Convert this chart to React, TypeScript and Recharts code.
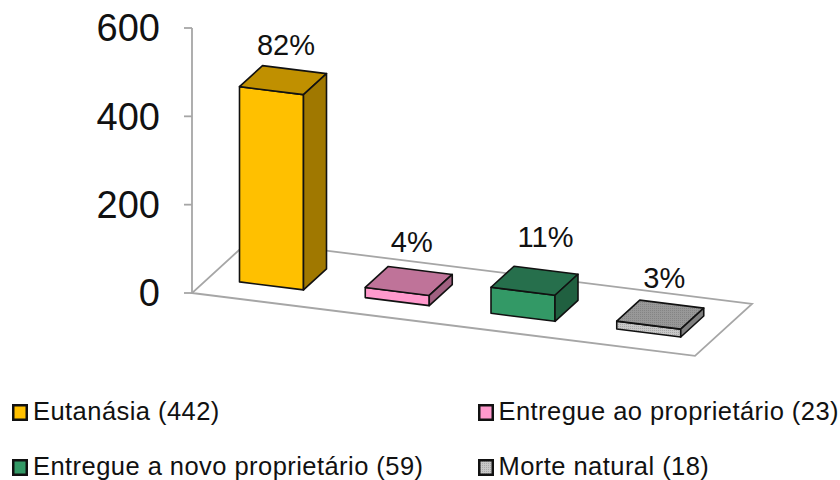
import { BarChart, Bar, XAxis, YAxis, Legend, usePlotArea } from 'recharts';

const categories = ['Eutanásia', 'Entregue ao proprietário', 'Entregue a novo proprietário', 'Morte natural'];
const counts = [442, 23, 59, 18];
const percentLabels = ['82%', '4%', '11%', '3%'];
const yTicks = [0, 200, 400, 600];

const data = categories.map((name, i) => ({ name, count: counts[i], pct: percentLabels[i] }));

// front, top and side shades of each column
const FRONT = ['#FFC000', '#FF99CC', '#339966', 'url(#dotsLight)'];
const TOP = ['#C09000', '#BF7399', '#266F4C', 'url(#dotsDark)'];
const SIDE = ['#A07800', '#A06080', '#206040', '#7F7F7F'];
const LEGEND_FILL = ['#FFC000', '#FF99CC', '#339966', 'url(#dotsLight)'];

// oblique projection of the floor
const PLOT_LEFT = 192;
const SLOPE = 0.125;
const DEPTH_X = 23;
const DEPTH_Y = -21;
const FLOOR_DX = 57;
const FLOOR_DY = -52;
// columns stand in the middle of the floor depth
const INSET_X = 16.5;
const INSET_Y = -15;
const AXIS_GREY = '#A6A6A6';
const LABEL_NUDGE = [[0, 0], [0, -3], [8, -8], [1, -1]];

function Floor() {
  const plot = usePlotArea();
  if (!plot) return null;
  const x0 = plot.x;
  const y0 = plot.y + plot.height;
  const x1 = x0 + plot.width;
  const y1 = y0 + plot.width * SLOPE;
  const pts = [
    [x0, y0],
    [x1, y1],
    [x1 + FLOOR_DX, y1 + FLOOR_DY],
    [x0 + FLOOR_DX, y0 + FLOOR_DY],
  ];
  return (
    <polygon
      points={pts.map((p) => p.join(',')).join(' ')}
      fill="#fff"
      stroke={AXIS_GREY}
      strokeWidth={1.8}
    />
  );
}

function Column(props: any) {
  const { x, y, width, height, index, payload } = props;
  const left = x + INSET_X;
  const right = left + width;
  const shear = (px: number) => (px - PLOT_LEFT - INSET_X) * SLOPE + INSET_Y;
  const yL = y + shear(left);
  const yR = y + shear(right);
  const bL = y + height + shear(left);
  const bR = y + height + shear(right);
  const face = (pts: number[][], fill: string) => (
    <polygon
      points={pts.map((p) => p.join(',')).join(' ')}
      fill={fill}
      stroke="#111"
      strokeWidth={1.6}
      strokeLinejoin="round"
    />
  );
  const [nx, ny] = LABEL_NUDGE[index];
  return (
    <g>
      {face([[left, yL], [right, yR], [right, bR], [left, bL]], FRONT[index])}
      {face([[left, yL], [left + DEPTH_X, yL + DEPTH_Y], [right + DEPTH_X, yR + DEPTH_Y], [right, yR]], TOP[index])}
      {face([[right, yR], [right + DEPTH_X, yR + DEPTH_Y], [right + DEPTH_X, bR + DEPTH_Y], [right, bR]], SIDE[index])}
      <text
        x={(left + right) / 2 + DEPTH_X / 2 + 3 + nx}
        y={yL - 32 + ny}
        textAnchor="middle"
        fontFamily="Liberation Sans"
        fontSize={29}
        fill="#111"
      >
        {payload.pct}
      </text>
    </g>
  );
}

const COLS = [12, 477.5];
const ROWS = [0.5, 55.5];

function LegendBlock() {
  return (
    <div style={{ position: 'relative', width: 840, height: 80 }}>
      {data.map((d, i) => (
        <div
          key={d.name}
          style={{
            position: 'absolute',
            left: COLS[i % 2],
            top: ROWS[Math.floor(i / 2)],
            display: 'flex',
            alignItems: 'center',
            whiteSpace: 'nowrap',
            fontFamily: 'Liberation Sans',
            fontSize: 25.5,
            letterSpacing: 0.45,
            lineHeight: '24px',
            color: '#111',
          }}
        >
          <svg width={16} height={17} style={{ marginRight: 5, position: 'relative', top: 2 }}>
            <rect x={1.25} y={1.25} width={13.5} height={14.5} fill={LEGEND_FILL[i]} stroke="#111" strokeWidth={2.5} />
          </svg>
          {d.name} ({d.count})
        </div>
      ))}
    </div>
  );
}

export default function App() {
  return (
    <div style={{ position: 'absolute', left: 0, top: 0, width: 840, height: 480, background: '#fff' }}>
      <BarChart width={840} height={480} data={data} margin={{ top: 28, right: 145, bottom: 107, left: 0 }}>
        <defs>
          <pattern id="dotsLight" width={2} height={2} patternUnits="userSpaceOnUse">
            <rect width={2} height={2} fill="#C8C8C8" />
            <rect width={1} height={1} fill="#A8A8A8" />
          </pattern>
          <pattern id="dotsDark" width={2} height={2} patternUnits="userSpaceOnUse">
            <rect width={2} height={2} fill="#989898" />
            <rect width={1} height={1} fill="#848484" />
          </pattern>
        </defs>
        <Floor />
        <XAxis dataKey="name" hide />
        <YAxis
          width={192}
          domain={[0, 600]}
          ticks={yTicks}
          interval={0}
          tickSize={8}
          tickMargin={24}
          axisLine={{ stroke: AXIS_GREY, strokeWidth: 1.8 }}
          tickLine={{ stroke: AXIS_GREY, strokeWidth: 1.8 }}
          tick={{ fontFamily: 'Liberation Sans', fontSize: 38, fill: '#111' }}
        />
        <Bar dataKey="count" barSize={64} shape={Column} isAnimationActive={false} />
        <Legend
          content={<LegendBlock />}
          wrapperStyle={{ position: 'absolute', left: 0, top: 398, width: 840, height: 80 }}
        />
      </BarChart>
    </div>
  );
}
